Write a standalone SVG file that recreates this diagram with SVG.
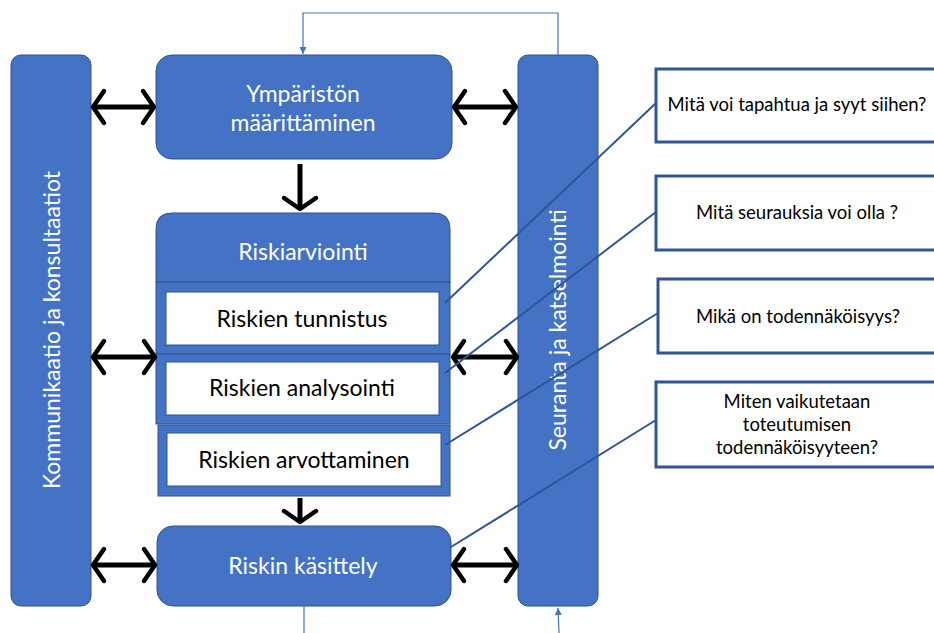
<svg xmlns="http://www.w3.org/2000/svg" width="934" height="633" viewBox="0 0 934 633">
  <style>
    .blue { fill: #4472C4; stroke: #2F528F; stroke-width: 1; }
    .inner { fill: #FFFFFF; stroke: #2F528F; stroke-width: 1; }
    .note { fill: #FFFFFF; stroke: #2F5597; stroke-width: 3; }
    .wt { font-family: Lato, "Liberation Sans", sans-serif; fill: #FFFFFF; text-anchor: middle; font-size: 23px; }
    .bk { font-family: Lato, "Liberation Sans", sans-serif; fill: #000000; text-anchor: middle; font-size: 23px; }
    .q { font-size: 18.5px; }
    .flow { stroke: #000000; stroke-width: 5; fill: none; }
    .feed { stroke: #4472C4; stroke-width: 1.2; fill: none; }
    .link { stroke: #2F5597; stroke-width: 2; fill: none; }
  </style>
  <defs>
    <marker id="chev" markerUnits="userSpaceOnUse" markerWidth="30" markerHeight="40" viewBox="-16 -20 20 40" refX="0" refY="0" orient="auto-start-reverse">
      <path d="M-11,-16 L0,0 L-11,16" fill="none" stroke="#000000" stroke-width="4.5" stroke-linecap="round" stroke-linejoin="round"/>
    </marker>
    <marker id="tri" markerUnits="userSpaceOnUse" markerWidth="10" markerHeight="10" viewBox="-8 -5 9 10" refX="0" refY="0" orient="auto">
      <path d="M-7,-3.5 L0,0 L-7,3.5 Z" fill="#4472C4"/>
    </marker>
  </defs>

  <!-- side bars -->
  <g id="kommunikaatio">
    <rect class="blue" x="11" y="55" width="80" height="551" rx="10"/>
    <text class="wt" font-size="23.5" transform="translate(60,330) rotate(-90)">Kommunikaatio ja konsultaatiot</text>
  </g>
  <g id="seuranta">
    <rect class="blue" x="518" y="55" width="80" height="551" rx="10"/>
    <text class="wt" font-size="23.5" transform="translate(566,330) rotate(-90)">Seuranta ja katselmointi</text>
  </g>

  <!-- main process -->
  <g id="ymparisto">
    <rect class="blue" x="156" y="55" width="296" height="104" rx="16"/>
    <text class="wt" font-size="23.5" x="303" y="102">Ympäristön</text>
    <text class="wt" font-size="23.5" x="303" y="131">määrittäminen</text>
  </g>

  <g id="riskiarviointi">
    <path class="blue" d="M156,282 V229 Q156,213 172,213 H434 Q450,213 450,229 V282 Z"/>
    <text class="wt" x="303" y="260">Riskiarviointi</text>
    <rect class="blue" x="156" y="282" width="294" height="72"/>
    <rect class="blue" x="156" y="354" width="294" height="70"/>
    <rect class="blue" x="158" y="425" width="292" height="71"/>
  </g>
  <g id="tunnistus">
    <rect class="inner" x="166" y="292" width="273" height="53"/>
    <text class="bk" x="302" y="327">Riskien tunnistus</text>
  </g>
  <g id="analysointi">
    <rect class="inner" x="166" y="362" width="273" height="53"/>
    <text class="bk" x="302" y="396">Riskien analysointi</text>
  </g>
  <g id="arvottaminen">
    <rect class="inner" x="167" y="433" width="274" height="53"/>
    <text class="bk" x="304" y="468">Riskien arvottaminen</text>
  </g>

  <g id="kasittely">
    <rect class="blue" x="157" y="526" width="294" height="80" rx="16"/>
    <text class="wt" x="303" y="574">Riskin käsittely</text>
  </g>

  <!-- question notes -->
  <g id="kysymys1">
    <rect class="note" x="656" y="69" width="284" height="73"/>
    <text class="bk q" x="797" y="111">Mitä voi tapahtua ja syyt siihen?</text>
  </g>
  <g id="kysymys2">
    <rect class="note" x="656" y="176" width="284" height="74"/>
    <text class="bk q" x="797" y="219">Mitä seurauksia voi olla ?</text>
  </g>
  <g id="kysymys3">
    <rect class="note" x="658" y="279" width="282" height="74"/>
    <text class="bk q" x="798" y="323">Mikä on todennäköisyys?</text>
  </g>
  <g id="kysymys4">
    <rect class="note" x="656" y="382" width="284" height="85"/>
    <text class="bk q" x="797" y="408">Miten vaikutetaan</text>
    <text class="bk q" x="797" y="431">toteutumisen</text>
    <text class="bk q" x="797" y="454">todennäköisyyteen?</text>
  </g>

  <!-- connectors -->
  <g id="connectors">
    <!-- feedback loop -->
    <path class="feed" d="M558,55 V13 H303 V54" marker-end="url(#tri)"/>
    <line class="feed" x1="304" y1="606" x2="304" y2="633"/>
    <line class="feed" x1="559" y1="633" x2="558" y2="608" marker-end="url(#tri)"/>

    <!-- two-way exchanges -->
    <line class="flow" x1="93" y1="107" x2="154" y2="107" marker-start="url(#chev)" marker-end="url(#chev)"/>
    <line class="flow" x1="454" y1="107" x2="516" y2="107" marker-start="url(#chev)" marker-end="url(#chev)"/>
    <line class="flow" x1="93" y1="357" x2="155" y2="357" marker-start="url(#chev)" marker-end="url(#chev)"/>
    <line class="flow" x1="453" y1="357" x2="517" y2="357" marker-start="url(#chev)" marker-end="url(#chev)"/>
    <line class="flow" x1="93" y1="565" x2="155" y2="565" marker-start="url(#chev)" marker-end="url(#chev)"/>
    <line class="flow" x1="453" y1="565" x2="517" y2="565" marker-start="url(#chev)" marker-end="url(#chev)"/>

    <!-- downward flow -->
    <line class="flow" x1="300" y1="164" x2="300" y2="209" marker-end="url(#chev)"/>
    <line class="flow" x1="300" y1="498" x2="300" y2="522" marker-end="url(#chev)"/>

    <!-- question links -->
    <line class="link" x1="445" y1="303" x2="656" y2="103"/>
    <line class="link" x1="445" y1="373" x2="656" y2="212"/>
    <line class="link" x1="445" y1="445" x2="658" y2="313"/>
    <line class="link" x1="451" y1="547" x2="656" y2="420"/>
  </g>
</svg>
